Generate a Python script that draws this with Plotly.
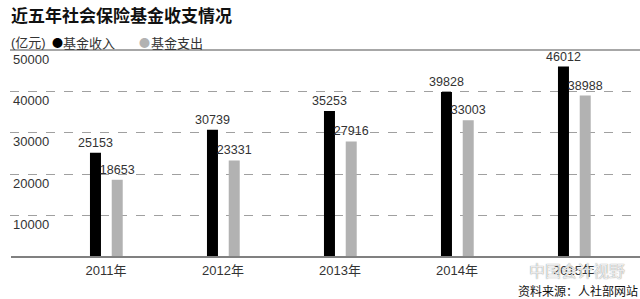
import plotly.graph_objects as go

years = ["2011年", "2012年", "2013年", "2014年", "2015年"]
income = [25153, 30739, 35253, 39828, 46012]
expense = [18653, 23331, 27916, 33003, 38988]
ytick_vals = [10000, 20000, 30000, 40000, 50000]
ytick_text = ["10000", "20000", "30000", "40000", "50000"]

W, H = 640, 299
ML, MR, MT, MB = 10, 0, 50, 42
PW = W - ML - MR
PH = H - MT - MB

def px(x):
    return (x - ML) / PW

def py(y):
    return 1 - (y - MT) / PH

LAT = "Liberation Sans, Arial, sans-serif"
CJK = "Noto Sans CJK SC, sans-serif"
MIX = "Liberation Sans, Noto Sans CJK SC, sans-serif"

fig = go.Figure()
fig.add_trace(go.Bar(
    x=years, y=income, name="基金收入",
    marker=dict(color="#000000", line=dict(width=0)),
    width=0.094, offset=-0.137,
    text=[str(v) for v in income], textposition="outside",
    constraintext="none",
    textfont=dict(family=LAT, size=12.5, color="#333333"),
    cliponaxis=False,
))
fig.add_trace(go.Bar(
    x=years, y=expense, name="基金支出",
    marker=dict(color="#b2b2b2", line=dict(width=0)),
    width=0.094, offset=0.049,
    text=[str(v) for v in expense], textposition="outside",
    constraintext="none",
    textfont=dict(family=LAT, size=12.5, color="#333333"),
    cliponaxis=False,
))

x0 = -96 / 117
fig.update_layout(
    width=W, height=H,
    margin=dict(l=ML, r=MR, t=MT, b=MB, pad=0),
    paper_bgcolor="white", plot_bgcolor="white",
    showlegend=False,
    barmode="group",
    xaxis=dict(
        type="category", range=[x0, x0 + PW / 117],
        showgrid=False, zeroline=False, showline=False,
        ticks="", tickfont=dict(family=MIX, size=13, color="#333333"),
        ticklabelstandoff=4,
    ),
    yaxis=dict(
        range=[0, 50000], tickvals=ytick_vals, ticktext=ytick_text,
        ticklabelposition="inside bottom",
        tickfont=dict(family=LAT, size=13, color="#333333"),
        showgrid=True, gridcolor="#a0a0a0", griddash="dash", gridwidth=1,
        zeroline=False, showline=False, ticks="",
    ),
)

# header separator line and baseline
fig.add_shape(type="line", xref="paper", yref="paper", x0=0, x1=px(640), y0=1, y1=1,
              line=dict(color="#8a8a8a", width=1.5))
fig.add_shape(type="line", xref="paper", yref="paper", x0=px(11), x1=px(640), y0=0, y1=0,
              line=dict(color="#808080", width=2))

# title
fig.add_annotation(text="<b>近五年社会保险基金收支情况</b>", xref="paper", yref="paper",
                   x=px(9), y=py(14), xanchor="left", yanchor="middle", showarrow=False,
                   font=dict(family=CJK, size=17, color="#111111"))
# legend row
fig.add_annotation(text="(亿元)", xref="paper", yref="paper", x=px(9), y=py(42),
                   xanchor="left", yanchor="middle", showarrow=False,
                   font=dict(family=MIX, size=13, color="#333333"))
fig.add_annotation(text="●", xref="paper", yref="paper", x=px(50), y=py(42),
                   xanchor="left", yanchor="middle", showarrow=False,
                   font=dict(family=CJK, size=11, color="#000000"))
fig.add_annotation(text="基金收入", xref="paper", yref="paper", x=px(61), y=py(42),
                   xanchor="left", yanchor="middle", showarrow=False,
                   font=dict(family=CJK, size=13, color="#333333"))
fig.add_annotation(text="●", xref="paper", yref="paper", x=px(137), y=py(42),
                   xanchor="left", yanchor="middle", showarrow=False,
                   font=dict(family=CJK, size=11, color="#b2b2b2"))
fig.add_annotation(text="基金支出", xref="paper", yref="paper", x=px(149), y=py(42),
                   xanchor="left", yanchor="middle", showarrow=False,
                   font=dict(family=CJK, size=13, color="#333333"))

# watermark and source
fig.add_annotation(text="中国会计视野", xref="paper", yref="paper", x=px(627), y=py(270),
                   xanchor="right", yanchor="middle", showarrow=False,
                   font=dict(family=CJK, size=16, color="rgba(255,255,255,0.85)",
                             shadow="0px 0px 1px #555"))
fig.add_annotation(text="资料来源：人社部网站", xref="paper", yref="paper", x=px(640), y=py(290),
                   xanchor="right", yanchor="middle", showarrow=False,
                   font=dict(family=CJK, size=12, color="#111111"))

fig.write_html("out.html")
